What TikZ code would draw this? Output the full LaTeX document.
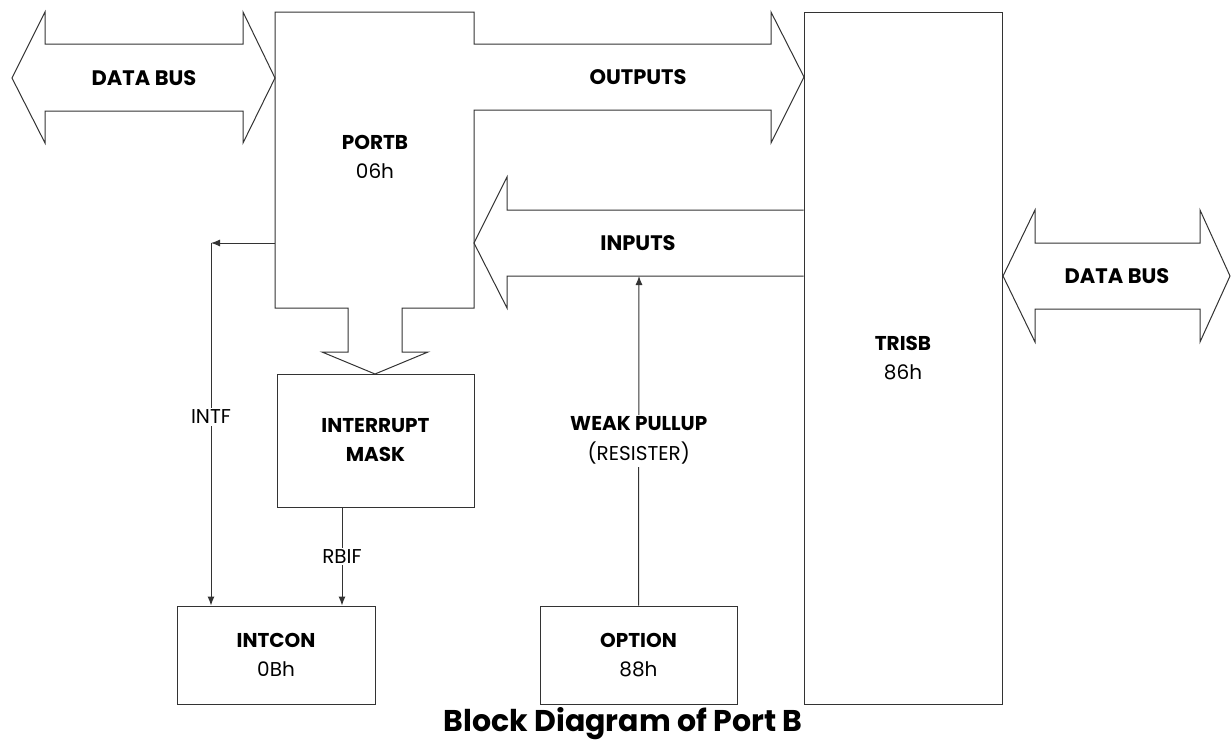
\documentclass[tikz,border=0pt]{standalone}
\usepackage{fontspec}
\setmainfont{Poppins}
\usepackage{tikz}
\usetikzlibrary{arrows.meta,positioning,calc}
\tikzstyle{outline}=[draw=black!80, line width=1pt]
\tikzstyle{register}=[outline, fill=white, minimum width=197pt, align=center,
inner sep=0pt, font=\fontsize{20}{29}\selectfont]
\tikzstyle{busname}=[font=\fontsize{21}{24}\selectfont\bfseries]
\tikzstyle{line}=[draw=black!80, line width=1pt, -{Latex[length=9pt,width=7pt]}]
\tikzstyle{tag}=[fill=white, inner sep=2pt, align=center, font=\fontsize{20}{30}\selectfont]
\newcommand{\reg}[2]{\textbf{#1}\\#2}

\begin{document}
\begin{tikzpicture}[x=1pt,y=-1pt]
	\useasboundingbox (0,0) rectangle (1231,742);

	% Draw bus arrows
	\path[outline] (12,78) -- (45,12) -- (45,44) -- (243,44) -- (243,12) -- (275,78)
		-- (243,143) -- (243,111) -- (45,111) -- (45,143) -- cycle;
	\node[busname] (busL) at (144,78) {DATA BUS};

	\path[outline] (1003,276) -- (1035,210) -- (1035,243) -- (1200,243) -- (1200,210)
		-- (1230,276) -- (1200,342) -- (1200,309) -- (1035,309) -- (1035,342) -- cycle;
	\node[busname] (busR) at (1117,276) {DATA BUS};

	% PORTB with outputs and mask arrow
	\path[outline] (275,12) -- (474,12) -- (474,44) -- (771,44) -- (771,12) -- (804,77)
		-- (771,143) -- (771,110) -- (474,110) -- (474,308) -- (402,308) -- (402,352)
		-- (428,352) -- (375,374) -- (322,352) -- (348,352) -- (348,308) -- (275,308) -- cycle;
	\node[register, draw=none, fill=none] (portb) at (375,157) {\reg{PORTB}{06h}};
	\node[busname] (outputs) at (638,77) {OUTPUTS};

	% Draw registers
	\node[register, minimum width=198pt, minimum height=692pt] (trisb) at (903,358) {\reg{TRISB}{86h}};
	\node[register, minimum height=133pt] (mask) at (375.5,440.5) {\textbf{INTERRUPT}\\\textbf{MASK}};
	\node[register, minimum width=198pt, minimum height=98pt] (intcon) at (276,655) {\reg{INTCON}{0Bh}};
	\node[register, minimum height=98pt] (option) at (638.5,655) {\reg{OPTION}{88h}};

	% inputs arrow
	\path[outline] (trisb.west |- 0,210) -- (507,210) -- (507,177) -- (474,243) -- (507,308)
		-- (507,276) -- (trisb.west |- 0,276);
	\node[busname] (inputs) at (638,243) {INPUTS};

	% Draw connectors
	\coordinate (portbW) at (275,243);
	\coordinate (intf) at (211,243);
	\coordinate (pullup) at (639,276);
	\path[line] (portbW) -- (intf);
	\path[line] (intf) -- node[tag, pos=0.48] {INTF} (intf |- intcon.north);
	\path[line] (mask.south -| 342,0) -- node[tag] {RBIF} (intcon.north -| 342,0);
	\path[line] (option.north) -- node[tag] {\textbf{WEAK PULLUP}\\(RESISTER)} (pullup);

	\node[font=\fontsize{30}{34}\selectfont\bfseries] (title) at (623,724) {Block Diagram of Port B};
\end{tikzpicture}
\end{document}
